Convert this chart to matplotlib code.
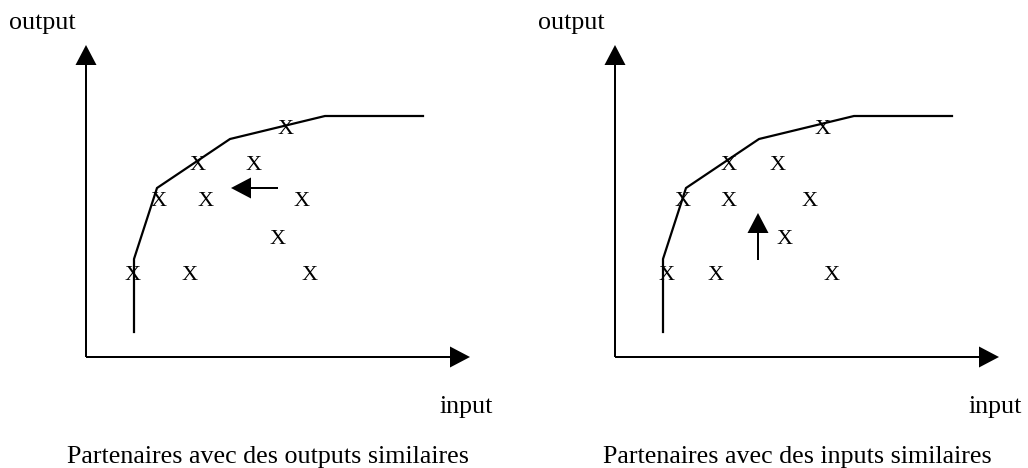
import matplotlib
matplotlib.use("Agg")
import matplotlib.pyplot as plt

plt.rcParams['font.family'] = ['Liberation Serif', 'DejaVu Serif']

# efficient frontier (input, output), shared by both panels
frontier_in = [48, 48, 71, 144, 239, 337]
frontier_out = [25, 98, 169, 218, 241, 241]

# partner points, left panel
left_in = [200, 112, 168, 73, 120, 216, 192, 47, 104, 224]
left_out = [230, 194, 194, 158, 158, 158, 120, 84, 84, 84]
# partner points, right panel
right_in = [208, 114, 163, 68, 114, 195, 170, 52, 101, 217]
right_out = [230, 194, 194, 158, 158, 158, 120, 84, 84, 84]

# direction arrows (start, end)
left_arrow = [(192, 169), (145, 169)]
right_arrow = [(143, 97), (143, 144)]

axis_len_x = 384
axis_len_y = 312

captions = ["Partenaires avec des outputs similaires",
            "Partenaires avec des inputs similaires"]

W, H = 1028, 468
fig = plt.figure(figsize=(W / 100, H / 100), dpi=100)


def panel(left_px, width_px, origin_px, xs, ys, arrow, caption):
    ax = fig.add_axes([left_px / W, 0, width_px / W, 1])
    ox, oy = origin_px
    ax.set_xlim(left_px - ox, left_px + width_px - ox)
    ax.set_ylim(oy - H, oy)
    ax.axis('off')

    hw, hl = 21, 20
    ax.arrow(0, 0, axis_len_x, 0, width=2, head_width=hw, head_length=hl,
             length_includes_head=True, fc='k', ec='k', lw=0)
    ax.arrow(0, 0, 0, axis_len_y, width=2, head_width=hw, head_length=hl,
             length_includes_head=True, fc='k', ec='k', lw=0)

    ax.plot(frontier_in, frontier_out, color='k', lw=1.6,
            solid_joinstyle='miter')

    for x, y in zip(xs, ys):
        ax.text(x, y - 7.5, "X", fontsize=16, ha='center', va='baseline')

    (x0, y0), (x1, y1) = arrow
    ax.arrow(x0, y0, x1 - x0, y1 - y0, width=2, head_width=hw, head_length=hl,
             length_includes_head=True, fc='k', ec='k', lw=0)

    ax.text(-77, 328, "output", fontsize=18.7, ha='left', va='baseline')
    ax.text(354, -56, "input", fontsize=18.7, ha='left', va='baseline')
    ax.text(182, -106, caption, fontsize=18.7, ha='center', va='baseline')
    return ax


panel(0, 514, (86, 357), left_in, left_out, left_arrow, captions[0])
panel(514, 514, (615, 357), right_in, right_out, right_arrow, captions[1])

fig.savefig("out.png", dpi=100, facecolor='white')
